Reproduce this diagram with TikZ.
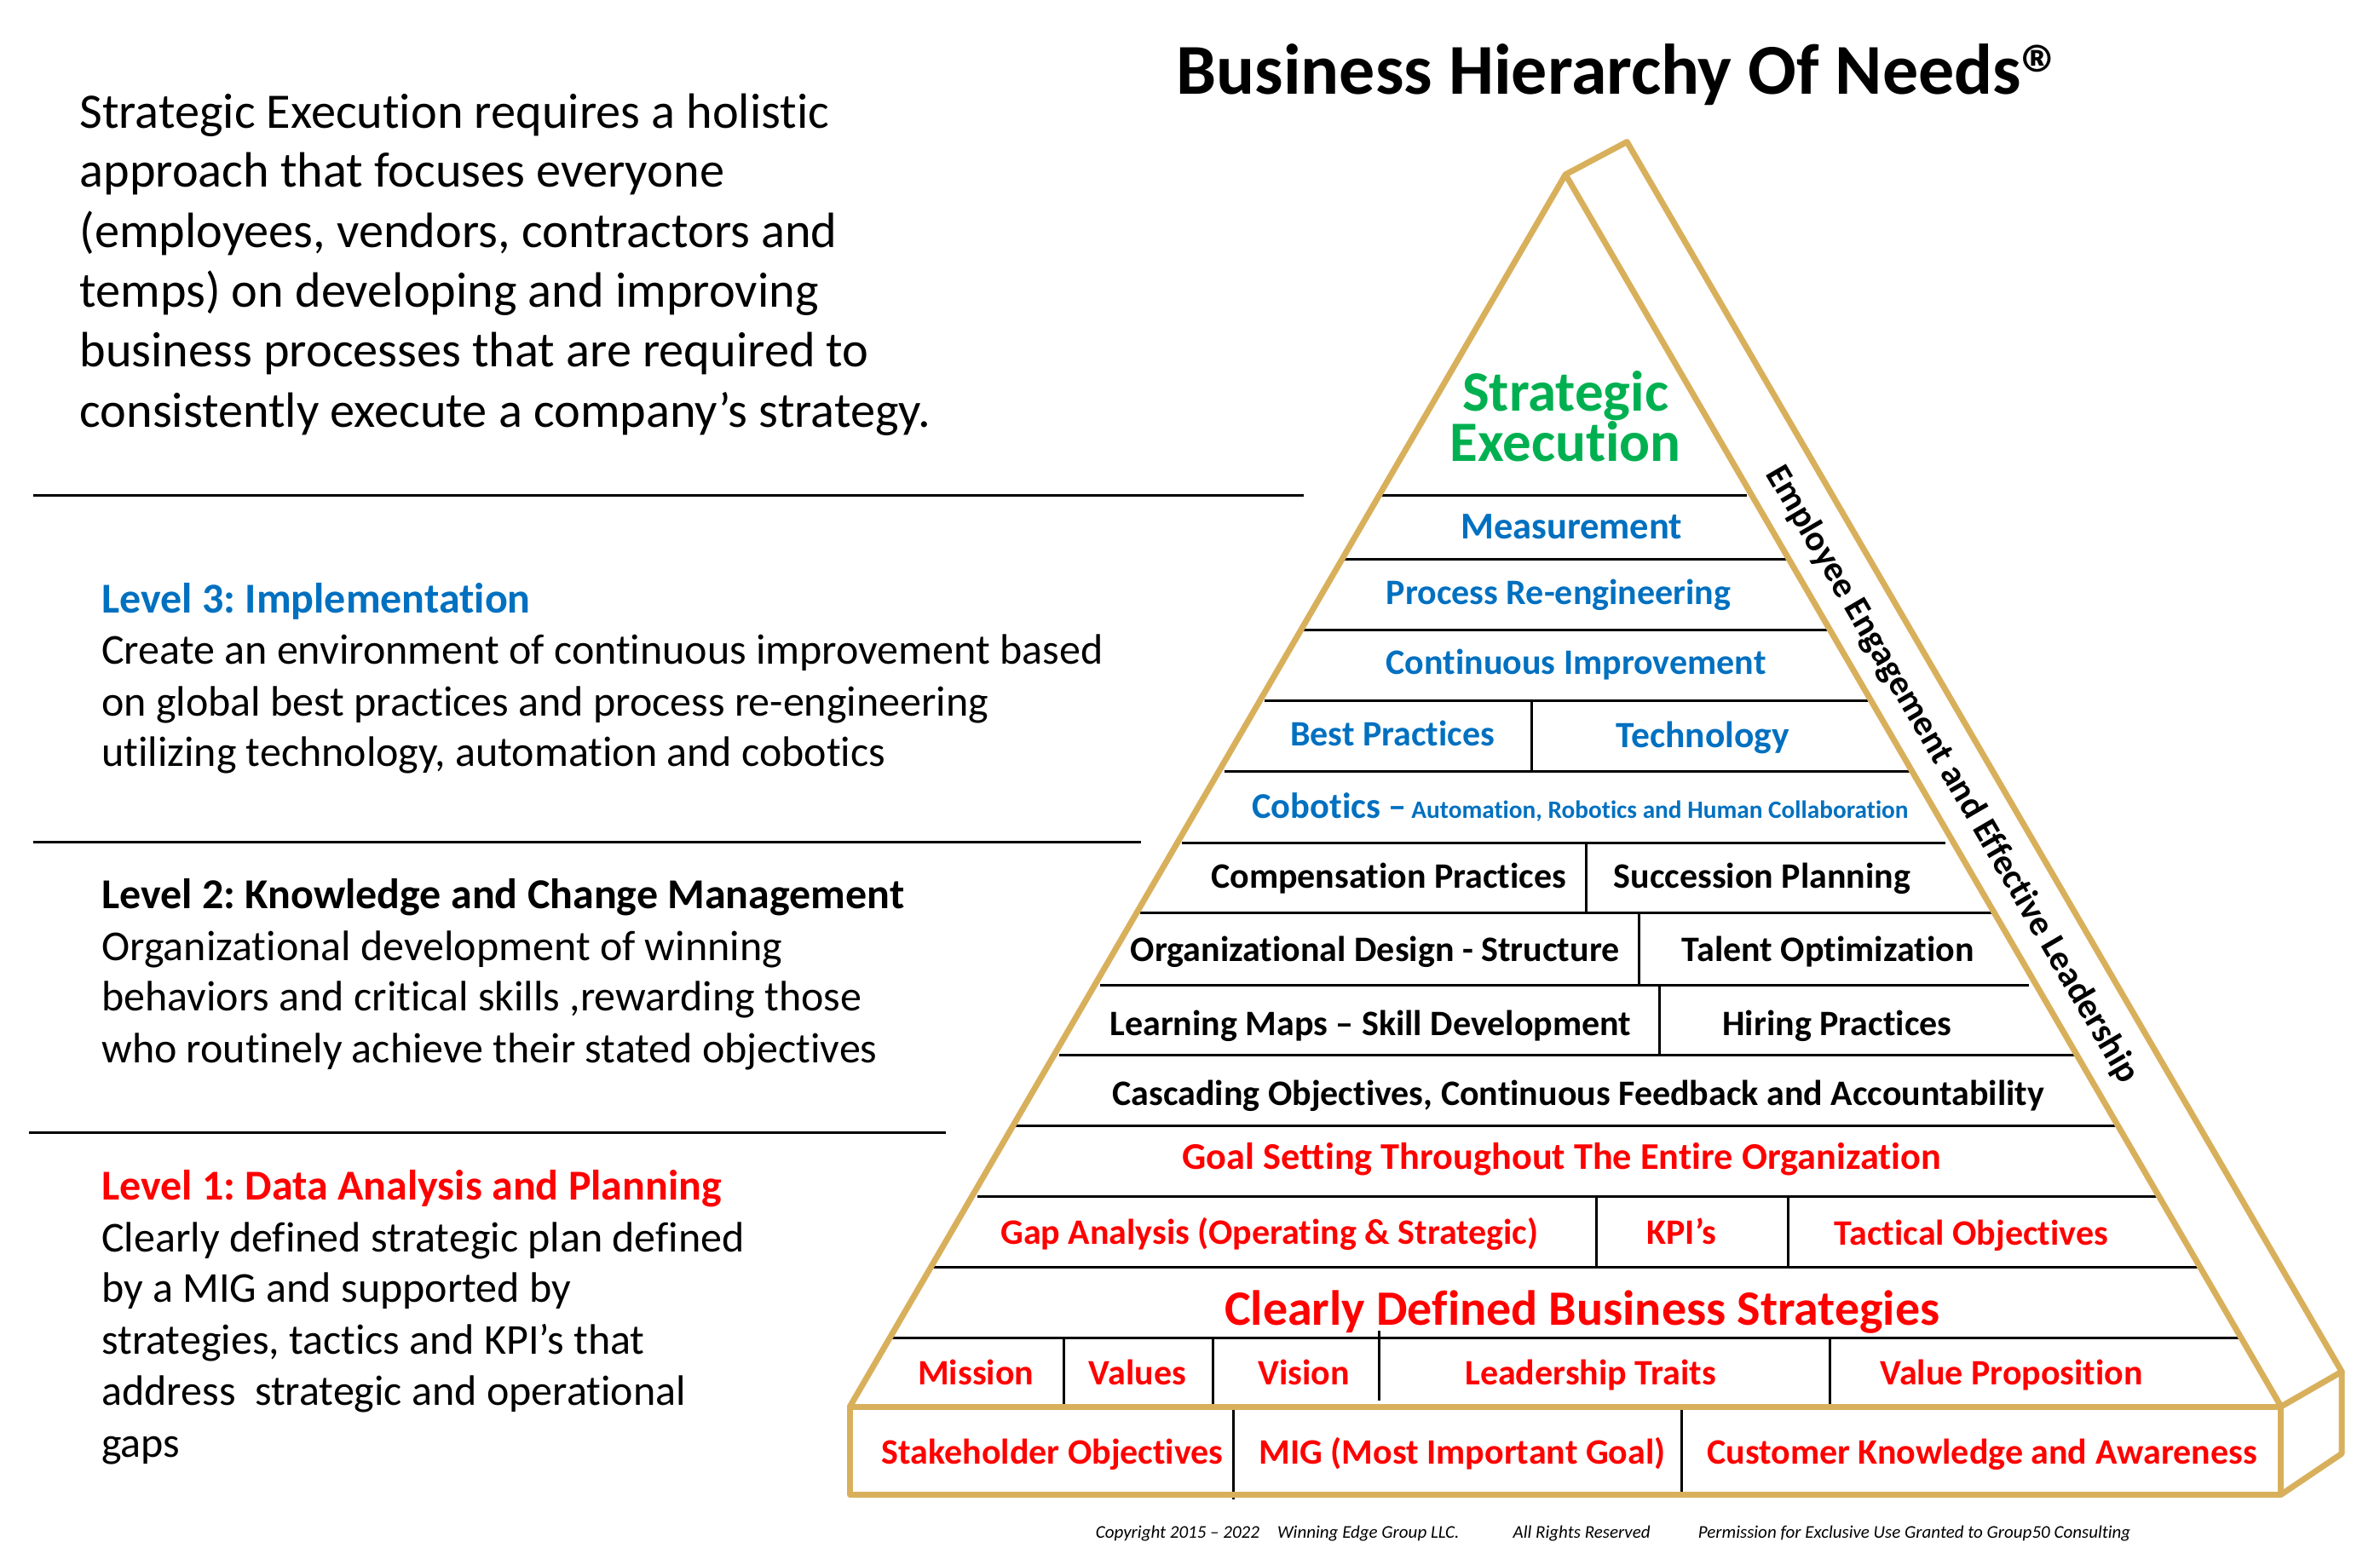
\documentclass[tikz,border=0pt]{standalone}
\usepackage{fontspec}
\setmainfont{Carlito}[Ligatures=CommonOff]
\frenchspacing
\definecolor{gold}{HTML}{D8B05C}
\definecolor{lvlblue}{HTML}{0070C0}
\definecolor{lvlred}{HTML}{FF0000}
\definecolor{lvlgreen}{HTML}{00B050}
\newcommand{\fs}[1]{\fontsize{#1}{#1}\selectfont}
\tikzset{
  txt/.style={inner sep=0pt,outer sep=0pt},
  lft/.style={txt,anchor=base west},
  mid/.style={txt,anchor=base},
  rowb/.style={mid,font=\fs{42}\bfseries,text=black},
  rowu/.style={mid,font=\fs{42}\bfseries,text=lvlblue},
  rowr/.style={mid,font=\fs{42}\bfseries,text=lvlred},
  para/.style={lft,font=\fs{58.3}},
  body/.style={lft,font=\fs{50}},
  head/.style={lft,font=\fs{50}\bfseries},
  fine/.style={lft,font=\fs{21}\itshape},
  rule/.style={draw=black,line width=3pt},
  thin rule/.style={draw=black,line width=3pt},
  goldline/.style={draw=gold,line width=7pt,line join=round,line cap=round},
}
\begin{document}
\begin{tikzpicture}[x=1.781pt,y=-1.781pt]
\useasboundingbox (0,0) rectangle (1568.2,1031.4);
% left rules
\draw[rule] (22,326.3) -- (859,326.3);
\draw[rule] (22,554.8) -- (752,554.8);
\draw[rule] (19,746.3) -- (623,746.3);
% pyramid rows
\foreach \y/\a/\b in {326.3/910/1151,368.8/885/1177,415.3/859/1204,461.8/833/1231,508.3/807/1258,555.3/779/1282,601.8/751/1312,649.3/725/1337,695.3/698/1367,741.8/668/1394,788.8/644/1421,835.3/614/1448,881.8/587/1475}
  \draw[rule] (\a,\y) -- (\b,\y);
\foreach \x/\a/\b in {1009/462/508,1045/555/601,1080/601/649,1093.5/649/695,1052/788/835,1178/788/835,701/881/927,799/881/927,909/877/923,1206/881/927,813/929/988,1108/929/985}
  \draw[thin rule] (\x,\a) -- (\x,\b);
% gold frame
\draw[goldline] (560,927) -- (1031.5,115) -- (1503,927);
\draw[goldline] (1031.5,115) -- (1072,93.5) -- (1543,904) -- (1543,958) -- (1503,985);
\draw[goldline] (1503,927) -- (1543,904);
\draw[goldline] (560,927) rectangle (1503,985);
% title and left text
\node[lft,font=\fs{84}\bfseries] (title) at (775,62) {Business Hierarchy Of Needs\raisebox{-11pt}{\fs{98}®}};
\node[para] (p1) at (52.5,84.5) {Strategic Execution requires a holistic};
\node[para] (p2) at (52.5,123.5) {approach that focuses everyone};
\node[para] (p3) at (52.5,163) {(employees, vendors, contractors and};
\node[para] (p4) at (52.5,202.5) {temps) on developing and improving};
\node[para] (p5) at (52.5,241.5) {business processes that are required to};
\node[para] (p6) at (52.5,281.5) {consistently execute a company’s strategy.};
\node[head,text=lvlblue] (l3h) at (67,404) {Level 3: Implementation};
\node[body] (l3a) at (67,437.8) {Create an environment of continuous improvement based};
\node[body] (l3b) at (67,471.8) {on global best practices and process re-engineering};
\node[body] (l3c) at (67,505.3) {utilizing technology, automation and cobotics};
\node[head] (l2h) at (67,599) {Level 2: Knowledge and Change Management};
\node[body] (l2a) at (67,632.8) {Organizational development of winning};
\node[body] (l2b) at (67,666.3) {behaviors and critical skills ,rewarding those};
\node[body] (l2c) at (67,700.3) {who routinely achieve their stated objectives};
\node[head,text=lvlred] (l1h) at (67,791) {Level 1: Data Analysis and Planning};
\node[body] (l1a) at (67,824.8) {Clearly defined strategic plan defined};
\node[body] (l1b) at (67,858.3) {by a MIG and supported by};
\node[body] (l1c) at (67,892.3) {strategies, tactics and KPI’s that};
\node[body] (l1d) at (67,926.3) {address\ \ strategic and operational};
\node[body] (l1e) at (67,960.3) {gaps};
% pyramid text
\node[mid,font=\fs{67}\bfseries,text=lvlgreen] (se1) at (1031.5,271) {Strategic};
\node[mid,font=\fs{67}\bfseries,text=lvlgreen] (se2) at (1031.5,304) {Execution};
\node[rowu,font=\fs{44.5}\bfseries] (r1) at (1035.5,355) {Measurement};
\node[rowu] (r2) at (1027,398.5) {Process Re-engineering};
\node[rowu] (r3) at (1038.5,444.5) {Continuous Improvement};
\node[rowu] (r4a) at (917.5,491.5) {Best Practices};
\node[rowu,font=\fs{43.5}\bfseries] (r4b) at (1122,492.5) {Technology};
\node[lft,font=\fs{42.5}\bfseries,text=lvlblue] (r5a) at (825,539.5) {Cobotics –};
\node[lft,font=\fs{29.3}\bfseries,text=lvlblue] (r5b) at (930,539.5) {Automation, Robotics and Human Collaboration};
\node[rowb] (r6a) at (915,585.5) {Compensation Practices};
\node[rowb] (r6b) at (1161,585.5) {Succession Planning};
\node[rowb] (r7a) at (906,633.5) {Organizational Design - Structure};
\node[rowb] (r7b) at (1204.5,633.5) {Talent Optimization};
\node[rowb] (r8a) at (903,682.5) {Learning Maps – Skill Development};
\node[rowb] (r8b) at (1210.5,682.5) {Hiring Practices};
\node[rowb] (r9) at (1040,728.5) {Cascading Objectives, Continuous Feedback and Accountability};
\node[rowr,font=\fs{44.3}\bfseries] (r10) at (1029,770.5) {Goal Setting Throughout The Entire Organization};
\node[rowr] (r11a) at (836.5,819.8) {Gap Analysis (Operating \& Strategic)};
\node[rowr] (r11b) at (1108,819.8) {KPI’s};
\node[rowr] (r11c) at (1299,820.5) {Tactical Objectives};
\node[rowr,font=\fs{58}\bfseries] (r12) at (1042.5,873.5) {Clearly Defined Business Strategies};
\node[rowr] (r13a) at (643,912.5) {Mission};
\node[rowr] (r13b) at (749.5,912.5) {Values};
\node[rowr] (r13c) at (859,912.5) {Vision};
\node[rowr] (r13d) at (1048,912.5) {Leadership Traits};
\node[rowr] (r13e) at (1325.5,912.5) {Value Proposition};
\node[rowr] (r14a) at (693.5,964.8) {Stakeholder Objectives};
\node[rowr] (r14b) at (963.5,964.8) {MIG (Most Important Goal)};
\node[rowr] (r14c) at (1306,964.8) {Customer Knowledge and Awareness};
\node[txt,font=\fs{42}\bfseries,rotate=-59.8] (side) at (1286,510.5) {Employee Engagement and Effective Leadership};
\node[fine] (c1) at (722,1014) {Copyright 2015 – 2022\quad Winning Edge Group LLC.};
\node[fine] (c2) at (997,1014) {All Rights Reserved};
\node[fine] (c3) at (1119,1014) {Permission for Exclusive Use Granted to Group50 Consulting};
\end{tikzpicture}
\end{document}
